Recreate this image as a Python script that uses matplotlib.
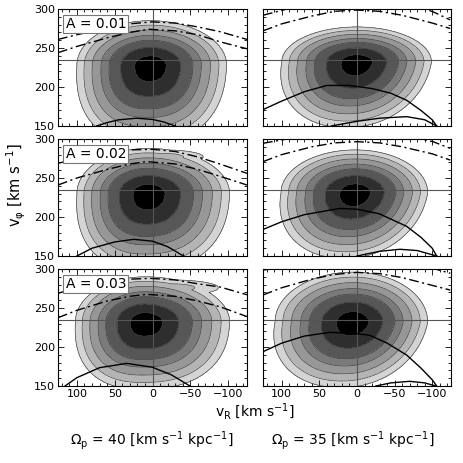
import numpy as np
import matplotlib
matplotlib.use('Agg')
import matplotlib.pyplot as plt

plt.rcParams['font.family'] = ['DejaVu Sans']
plt.rcParams['mathtext.default'] = 'regular'

# ---------------- data ----------------
amplitudes = ['A = 0.01', 'A = 0.02', 'A = 0.03']
pattern_speeds = [40, 35]
ref_vphi = 235
xticks = [100, 50, 0, -50, -100]
yticks = [150, 200, 250, 300]

# distribution shape per panel: centre vR, centre vphi, extent to +vR, extent to -vR,
# extent up, extent down, lower-left skew, squareness of lower half
shape_TL = [3, 228, 97, 101, 57, 100, 0.05, 2.4]
shape_TR = [0, 232, 100, 99, 45, 84, 0.18, 2.1]
shape_ML = [6, 230, 94, 108, 58, 98, 0.05, 2.4]
shape_MR = [2, 231, 99, 96, 55, 84, 0.18, 2.1]
shape_BL = [10, 232, 92, 112, 58, 86, 0.05, 2.4]
shape_BR = [5, 232, 104, 99, 64, 84, 0.2, 2.1]

# secondary light "tongue" near the outer resonance: centre vR, centre vphi, width, height
tongue_ML = [-15, 277, 52, 9]
tongue_BL = [-25, 276, 62, 10]

contour_levels = [0.0, 0.21, 0.40, 0.56, 0.67, 0.79, 0.9, 1.0]
contour_colors = ['#000000', '#2e2e2e', '#575757', '#7a7a7a', '#979797',
                  '#b4b4b4', '#d4d4d4']

# resonance curves (vR, vphi)
# top-left
TL_solid_vR = [74, 60, 45, 21, 0, -15, -30]
TL_solid_vp = [150, 154.4, 157.9, 160, 158.4, 155.2, 150]
TL_dd1_vR = [125, 100, 60, 30, 0, -30, -60, -89, -125]
TL_dd1_vp = [261, 267, 276, 281, 283.5, 282, 277, 271, 261]
TL_dd2_vR = [125, 100, 60, 30, 5, -30, -60, -89, -125]
TL_dd2_vp = [244, 252, 263, 270, 274, 272, 267, 258, 249]
# top-right
TR_solid1_vR = [125, 100, 70, 40, 10, -20, -45, -66, -85, -100, -106]
TR_solid1_vp = [171, 182, 194, 202, 202, 198, 192, 183, 170, 158, 150]
TR_solid2_vR = [34, 0, -30, -66, -90, -106]
TR_solid2_vp = [150, 156, 160, 162, 158, 150]
TR_dd1_vR = [125, 93, 50, 0, -50, -90, -101, -124]
TR_dd1_vp = [292, 300, 308, 310, 308, 300, 296.5, 286]
TR_dd2_vR = [125, 100, 60, 30, 0, -30, -60, -100, -124]
TR_dd2_vp = [272, 281, 291, 297, 298.7, 297, 292, 282, 275]
# middle-left
ML_solid_vR = [100, 80, 50, 25, 0, -20, -41]
ML_solid_vp = [150, 160, 168, 171.4, 169, 162, 150]
ML_dd1_vR = [125, 100, 60, 30, 0, -30, -60, -89, -125]
ML_dd1_vp = [268.8, 275, 282, 286, 286.8, 284, 277, 268, 256]
ML_dd2_vR = [125, 100, 60, 30, 8, -30, -60, -90, -125]
ML_dd2_vp = [241, 250, 261, 268, 271, 268, 261, 252, 241]
# middle-right
MR_solid1_vR = [125, 100, 70, 23, 0, -30, -66, -85, -100, -106]
MR_solid1_vp = [184, 194, 203, 211, 210, 204, 188, 174, 160, 150]
MR_solid2_vR = [0, -30, -57, -80, -106]
MR_solid2_vp = [150, 156, 158.6, 157, 150]
MR_dd1_vR = [125, 93, 50, 0, -50, -101, -124]
MR_dd1_vp = [294.5, 300, 307, 309, 307, 296.6, 288]
MR_dd2_vR = [125, 100, 60, 30, 0, -30, -60, -100, -124]
MR_dd2_vp = [271, 280, 290, 295, 296.6, 295, 290, 281, 273]
# bottom-left
BL_solid_vR = [115.7, 100, 70, 34, 0, -25, -49.6]
BL_solid_vp = [150, 160.7, 173.5, 179, 174, 164.3, 150]
BL_dd1_vR = [125, 100, 60, 30, 3, -30, -60, -89, -125]
BL_dd1_vp = [268.8, 276, 284, 287, 288, 286, 281, 277, 267]
BL_dd2_vR = [125, 100, 60, 30, 8, -30, -60, -89, -125]
BL_dd2_vp = [237.6, 247, 259, 265, 267.5, 265, 259, 251.7, 239]
# bottom-right
BR_solid1_vR = [125, 100, 70, 36, 0, -17, -40, -66, -85, -100, -106]
BR_solid1_vp = [194, 205, 214, 218.8, 217, 215, 205, 189.7, 173, 158, 150]
BR_solid2_vR = [-25, -45, -70, -90, -105]
BR_solid2_vp = [150, 154, 156, 154, 150]
BR_dd1_vR = [125, 115, 60, 0, -60, -104, -124]
BR_dd1_vp = [298.7, 300, 308, 310, 307, 300, 294.5]
BR_dd2_vR = [125, 100, 60, 30, 0, -30, -60, -100, -124]
BR_dd2_vp = [266.7, 276, 287, 293, 295.7, 294, 289, 279, 273]

panels = [
    [dict(shape=shape_TL, tongue=None,
          solid=[(TL_solid_vR, TL_solid_vp)],
          dd=[(TL_dd1_vR, TL_dd1_vp), (TL_dd2_vR, TL_dd2_vp)]),
     dict(shape=shape_TR, tongue=None,
          solid=[(TR_solid1_vR, TR_solid1_vp), (TR_solid2_vR, TR_solid2_vp)],
          dd=[(TR_dd1_vR, TR_dd1_vp), (TR_dd2_vR, TR_dd2_vp)])],
    [dict(shape=shape_ML, tongue=tongue_ML,
          solid=[(ML_solid_vR, ML_solid_vp)],
          dd=[(ML_dd1_vR, ML_dd1_vp), (ML_dd2_vR, ML_dd2_vp)]),
     dict(shape=shape_MR, tongue=None,
          solid=[(MR_solid1_vR, MR_solid1_vp), (MR_solid2_vR, MR_solid2_vp)],
          dd=[(MR_dd1_vR, MR_dd1_vp), (MR_dd2_vR, MR_dd2_vp)])],
    [dict(shape=shape_BL, tongue=tongue_BL,
          solid=[(BL_solid_vR, BL_solid_vp)],
          dd=[(BL_dd1_vR, BL_dd1_vp), (BL_dd2_vR, BL_dd2_vp)]),
     dict(shape=shape_BR, tongue=None,
          solid=[(BR_solid1_vR, BR_solid1_vp), (BR_solid2_vR, BR_solid2_vp)],
          dd=[(BR_dd1_vR, BR_dd1_vp), (BR_dd2_vR, BR_dd2_vp)])],
]

# ---------------- figure ----------------
fig = plt.figure(figsize=(4.63, 4.63), dpi=100)
W, H = 463.0, 463.0
col_x = [(58, 247), (263, 451)]
row_y = [(9, 126), (139, 256), (269, 386)]

vr = np.linspace(-130, 130, 521)
vp = np.linspace(145, 305, 321)
VR, VP = np.meshgrid(vr, vp)


def field(shape, tongue):
    c_r, c_p, xl, xr, up, down, skew, pb = shape
    dy = VP - c_p
    dx = VR - c_r - skew * np.clip(-dy, 0, None)
    ax_ = np.where(dx > 0, xl, xr)
    ay_ = np.where(dy > 0, up, down)
    p = np.where(dy > 0, 2.0, pb)
    r = (np.abs(dx / ax_) ** p + np.abs(dy / ay_) ** p) ** (1 / p)
    if tongue is not None:
        tx, ty, tw, th = tongue
        rt = 0.8 + 0.2 * np.sqrt(((VR - tx) / tw) ** 2 + ((VP - ty) / th) ** 2)
        r = np.minimum(r, rt)
    return r


dd_style = (0, (7, 2.5, 1.5, 2.5))

for i in range(3):
    for j in range(2):
        x0, x1 = col_x[j]
        y0, y1 = row_y[i]
        ax = fig.add_axes([x0 / W, 1 - y1 / H, (x1 - x0) / W, (y1 - y0) / H])
        pdef = panels[i][j]
        r = field(pdef['shape'], pdef['tongue'])
        ax.contourf(VR, VP, r, levels=contour_levels, colors=contour_colors)
        ax.contour(VR, VP, r, levels=contour_levels[1:], colors='#3a3a3a',
                   linewidths=0.45)
        ax.axhline(ref_vphi, color='#555555', lw=0.8)
        ax.axvline(0, color='#555555', lw=0.8)
        for (xs, ys) in pdef['solid']:
            ax.plot(xs, ys, color='black', lw=1.0)
        for (xs, ys) in pdef['dd']:
            ax.plot(xs, ys, color='black', lw=1.0, linestyle=dd_style)
        ax.set_xlim(125, -125)
        ax.set_ylim(150, 300)
        ax.set_xticks(xticks)
        ax.set_yticks(yticks)
        ax.set_xticks(np.arange(-120, 121, 10), minor=True)
        ax.set_yticks(np.arange(150, 301, 10), minor=True)
        ax.tick_params(which='both', direction='in', top=True, right=True,
                       labelsize=8, width=0.6, pad=2)
        ax.tick_params(which='major', length=4)
        ax.tick_params(which='minor', length=2)
        for s in ax.spines.values():
            s.set_linewidth(0.8)
        if j == 1:
            ax.set_yticklabels([])
        if i < 2:
            ax.set_xticklabels([])
        if j == 0:
            ax.text(0.04, 0.93, amplitudes[i], transform=ax.transAxes,
                    fontsize=10, va='top', ha='left',
                    bbox=dict(boxstyle='square,pad=0.15', fc='white',
                              ec='#777777', lw=0.8))

fig.text(0.035, 0.60, r'v$_{φ}$ [km s$^{-1}$]', rotation=90,
         ha='center', va='center', fontsize=10.5)
fig.text(0.551, 0.11, r'v$_{R}$ [km s$^{-1}$]', ha='center', va='center',
         fontsize=10)
for k, ps in enumerate(pattern_speeds):
    fig.text([0.328, 0.762][k], 0.048,
             r'$Ω_p$ = %d [km s$^{-1}$ kpc$^{-1}$]' % ps,
             ha='center', va='center', fontsize=10)

fig.savefig('out.png', dpi=100)
